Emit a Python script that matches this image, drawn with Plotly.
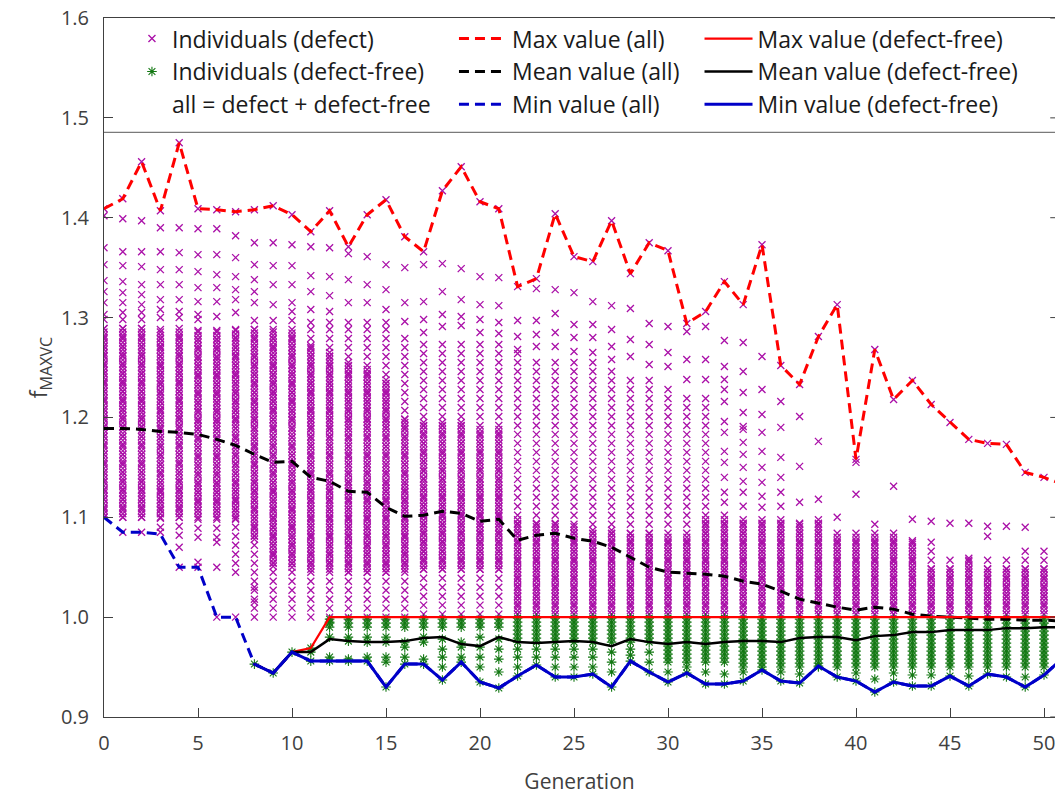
import numpy as np
import plotly.graph_objects as go

# ---------------- data ----------------
gens = list(range(0, 52))
max_all = [1.409, 1.419, 1.456, 1.407, 1.475, 1.409, 1.408, 1.406, 1.408, 1.412,
           1.403, 1.386, 1.407, 1.371, 1.403, 1.418, 1.381, 1.366, 1.427, 1.451,
           1.416, 1.409, 1.331, 1.339, 1.404, 1.361, 1.356, 1.397, 1.344, 1.375,
           1.367, 1.294, 1.306, 1.336, 1.313, 1.373, 1.252, 1.233, 1.281, 1.313,
           1.158, 1.268, 1.218, 1.237, 1.213, 1.195, 1.178, 1.174, 1.173, 1.145,
           1.140, 1.133]
mean_all = [1.189, 1.189, 1.188, 1.186, 1.185, 1.183, 1.178, 1.172, 1.163, 1.155,
            1.156, 1.140, 1.136, 1.126, 1.125, 1.110, 1.101, 1.102, 1.106, 1.104,
            1.096, 1.098, 1.077, 1.082, 1.084, 1.079, 1.076, 1.070, 1.060, 1.050,
            1.045, 1.044, 1.043, 1.041, 1.036, 1.033, 1.026, 1.018, 1.014, 1.010,
            1.007, 1.010, 1.008, 1.003, 1.001, 1.000, 0.999, 0.998, 0.998, 0.997,
            0.997, 0.996]
gens_df = list(range(8, 52))
min_df = [0.953, 0.944, 0.965, 0.956, 0.956, 0.956, 0.956, 0.930, 0.953, 0.953,
          0.937, 0.955, 0.935, 0.929, 0.941, 0.952, 0.940, 0.940, 0.943, 0.930,
          0.956, 0.945, 0.935, 0.944, 0.933, 0.933, 0.936, 0.947, 0.936, 0.934,
          0.951, 0.940, 0.936, 0.925, 0.935, 0.931, 0.931, 0.941, 0.931, 0.943,
          0.940, 0.930, 0.942, 0.959]
min_all = [1.100, 1.085, 1.085, 1.083, 1.050, 1.050, 1.000, 1.000] + min_df
max_df = [0.953, 0.944, 0.965, 0.969] + [1.000] * 40
mean_df = [0.953, 0.944, 0.965, 0.965, 0.978, 0.976, 0.975, 0.975, 0.976, 0.979,
           0.980, 0.973, 0.971, 0.980, 0.975, 0.974, 0.975, 0.976, 0.975, 0.971,
           0.978, 0.975, 0.973, 0.975, 0.973, 0.975, 0.976, 0.976, 0.975, 0.979,
           0.980, 0.980, 0.977, 0.981, 0.982, 0.985, 0.985, 0.987, 0.987, 0.987,
           0.989, 0.989, 0.990, 0.990]

x_ticks = [0, 5, 10, 15, 20, 25, 30, 35, 40, 45, 50]
y_ticks = [0.9, 1.0, 1.1, 1.2, 1.3, 1.4, 1.5, 1.6]
y_ticktext = ["0.9", "1.0", "1.1", "1.2", "1.3", "1.4", "1.5", "1.6"]

# individuals with defect: per generation, a solid band, a looser band, and single points
d_gens = list(range(0, 51))
d_solid_lo = [1.100, 1.100, 1.100, 1.100, 1.100, 1.100, 1.100, 1.098, 1.078, 1.051,
              1.050, 1.048, 1.048, 1.045, 1.045, 1.045, 1.048, 1.048, 1.048, 1.048,
              1.048, 1.048, 1.003, 1.003, 1.003, 1.003, 1.003, 1.003, 1.003, 1.003,
              1.003, 1.003, 1.003, 1.003, 1.003, 1.003, 1.003, 1.003, 1.003, 1.003,
              1.003, 1.003, 1.003, 1.003, 1.003, 1.003, 1.003, 1.003, 1.003, 1.003,
              1.003]
d_solid_hi = [1.290, 1.290, 1.290, 1.288, 1.288, 1.288, 1.288, 1.288, 1.288, 1.288,
              1.285, 1.275, 1.265, 1.255, 1.250, 1.240, 1.200, 1.195, 1.195, 1.195,
              1.190, 1.190, 1.100, 1.095, 1.095, 1.092, 1.090, 1.088, 1.085, 1.085,
              1.083, 1.080, 1.100, 1.098, 1.098, 1.098, 1.098, 1.096, 1.098, 1.081,
              1.081, 1.081, 1.081, 1.078, 1.051, 1.051, 1.061, 1.050, 1.050, 1.051,
              1.051]
d_chain_lo = [1.100, 1.100, 1.100, 1.090, 1.082, 1.080, 1.080, 1.045, 1.000, 1.000,
              1.000, 1.000, 1.000, 1.000, 1.000, 1.000, 1.000, 1.003, 1.003, 1.003,
              1.003, 1.003, 1.003, 1.003, 1.003, 1.003, 1.003, 1.003, 1.003, 1.003,
              1.003, 1.003, 1.003, 1.003, 1.003, 1.003, 1.003, 1.003, 1.003, 1.003,
              1.003, 1.003, 1.003, 1.003, 1.003, 1.003, 1.003, 1.003, 1.003, 1.003,
              1.003]
d_chain_hi = [1.300, 1.300, 1.300, 1.295, 1.295, 1.295, 1.295, 1.295, 1.300, 1.300,
              1.300, 1.295, 1.295, 1.290, 1.290, 1.290, 1.285, 1.280, 1.280, 1.280,
              1.275, 1.275, 1.265, 1.262, 1.262, 1.255, 1.255, 1.250, 1.245, 1.240,
              1.235, 1.225, 1.225, 1.105, 1.100, 1.100, 1.100, 1.098, 1.098, 1.085,
              1.088, 1.100, 1.085, 1.080, 1.081, 1.065, 1.061, 1.058, 1.065, 1.070,
              1.071]
d_sparse = [
    [1.303, 1.315, 1.326, 1.337, 1.353, 1.370, 1.402, 1.409],
    [1.085, 1.305, 1.315, 1.325, 1.336, 1.352, 1.366, 1.399, 1.419],
    [1.085, 1.305, 1.313, 1.323, 1.333, 1.351, 1.366, 1.397, 1.456],
    [1.085, 1.300, 1.308, 1.318, 1.333, 1.348, 1.366, 1.390, 1.407],
    [1.050, 1.070, 1.300, 1.306, 1.318, 1.333, 1.348, 1.365, 1.390, 1.475],
    [1.050, 1.055, 1.298, 1.303, 1.316, 1.330, 1.346, 1.363, 1.389, 1.409],
    [1.000, 1.050, 1.075, 1.301, 1.316, 1.330, 1.343, 1.363, 1.389, 1.408],
    [1.000, 1.305, 1.318, 1.328, 1.341, 1.360, 1.382, 1.406],
    [1.015, 1.030, 1.315, 1.326, 1.338, 1.353, 1.375, 1.408],
    [1.313, 1.333, 1.352, 1.375, 1.412],
    [1.306, 1.315, 1.333, 1.352, 1.373, 1.403],
    [1.295, 1.308, 1.326, 1.342, 1.371, 1.386],
    [1.295, 1.306, 1.322, 1.341, 1.370, 1.407],
    [1.295, 1.315, 1.338, 1.364, 1.371],
    [1.295, 1.315, 1.333, 1.361, 1.403],
    [1.295, 1.308, 1.328, 1.353, 1.418],
    [1.296, 1.315, 1.350, 1.381],
    [1.285, 1.298, 1.316, 1.353, 1.366],
    [1.291, 1.303, 1.326, 1.354, 1.427],
    [1.292, 1.301, 1.318, 1.349, 1.451],
    [1.285, 1.298, 1.313, 1.341, 1.416],
    [1.284, 1.295, 1.312, 1.340, 1.409],
    [1.268, 1.281, 1.297, 1.331],
    [1.271, 1.283, 1.297, 1.329, 1.339],
    [1.271, 1.285, 1.304, 1.328, 1.404],
    [1.266, 1.280, 1.293, 1.325, 1.361],
    [1.265, 1.280, 1.293, 1.316, 1.356],
    [1.258, 1.271, 1.288, 1.312, 1.397],
    [1.261, 1.278, 1.309, 1.344],
    [1.253, 1.273, 1.294, 1.375],
    [1.251, 1.265, 1.291, 1.367],
    [1.238, 1.258, 1.286, 1.294],
    [1.238, 1.258, 1.291, 1.306],
    [1.115, 1.125, 1.140, 1.155, 1.166, 1.185, 1.196, 1.216, 1.228, 1.238, 1.251, 1.277, 1.336],
    [1.111, 1.125, 1.136, 1.150, 1.163, 1.175, 1.188, 1.191, 1.205, 1.225, 1.246, 1.275, 1.313],
    [1.110, 1.121, 1.135, 1.150, 1.166, 1.185, 1.203, 1.228, 1.261, 1.373],
    [1.111, 1.125, 1.140, 1.160, 1.190, 1.216, 1.252],
    [1.115, 1.151, 1.201, 1.233],
    [1.118, 1.176, 1.281],
    [1.100, 1.313],
    [1.123, 1.155, 1.158],
    [1.268],
    [1.131, 1.218],
    [1.098, 1.237],
    [1.096, 1.213],
    [1.094, 1.195],
    [1.094, 1.178],
    [1.081, 1.091, 1.174],
    [1.091, 1.173],
    [1.090, 1.145],
    [1.140],
]

# defect-free individuals
f_gens = list(range(8, 51))
f_solid_lo = [None, None, None, None, 0.990, 0.990, 0.990, 0.990, 0.990, 0.990,
              0.990, 0.990, 0.990, 0.990, 0.975, 0.975, 0.975, 0.975, 0.975, 0.975,
              0.975, 0.975, 0.955, 0.955, 0.955, 0.955, 0.950, 0.950, 0.950, 0.950,
              0.950, 0.950, 0.950, 0.950, 0.950, 0.950, 0.950, 0.950, 0.950, 0.950,
              0.950, 0.950, 0.950]
f_sparse = [
    [0.953], [0.944], [0.965], [0.956, 0.965, 0.969],
    [0.956, 0.960, 0.980, 0.995], [0.956, 0.958, 0.976, 0.980], [0.956, 0.960, 0.975, 0.980],
    [0.930, 0.955, 0.960, 0.975, 0.980], [0.953, 0.960, 0.970, 0.975], [0.953, 0.958, 0.975, 0.980],
    [0.937, 0.950, 0.960, 0.968, 0.978], [0.955, 0.960, 0.970, 0.975], [0.935, 0.950, 0.960, 0.970, 0.980],
    [0.929, 0.945, 0.958, 0.968, 0.978], [0.941, 0.950, 0.960, 0.968], [0.952, 0.960, 0.968],
    [0.940, 0.950, 0.960, 0.968], [0.940, 0.950, 0.960, 0.968], [0.943, 0.950, 0.960, 0.968],
    [0.930, 0.945, 0.955, 0.965], [0.956, 0.962, 0.968], [0.945, 0.955, 0.965],
    [0.935, 0.945], [0.944, 0.950], [0.933, 0.945], [0.933, 0.943], [0.936, 0.945],
    [0.947], [0.936, 0.945], [0.934, 0.943], [0.951], [0.940], [0.936, 0.944],
    [0.925, 0.938], [0.935, 0.944], [0.931, 0.942], [0.931, 0.942], [0.941],
    [0.931, 0.941], [0.943], [0.940], [0.930, 0.940], [0.942],
]

# ---------------- build marker columns ----------------
dx, dy = [], []
for i, g in enumerate(d_gens):
    ys = list(np.arange(d_chain_lo[i], d_chain_hi[i] + 1e-9, 0.009))
    ys += list(np.arange(d_solid_lo[i], d_solid_hi[i] + 1e-9, 0.0035))
    ys += d_sparse[i]
    dx += [g] * len(ys)
    dy += ys

fx, fy = [], []
for i, g in enumerate(f_gens):
    ys = list(f_sparse[i])
    if f_solid_lo[i] is not None:
        ys += list(np.arange(f_solid_lo[i], 1.0 + 1e-9, 0.004))
    fx += [g] * len(ys)
    fy += ys

FONT = "Open Sans"
AX = "#404040"
fig = go.Figure()

fig.add_trace(go.Scatter(
    x=dx, y=dy, mode="markers", name="Individuals (defect)", legend="legend", legendgroup="a",
    marker=dict(symbol="x-thin", size=7, line=dict(width=1.3, color="#aa10a8"))))
fig.add_trace(go.Scatter(
    x=fx, y=fy, mode="markers", name="Individuals (defect-free)", legend="legend", legendgroup="b",
    marker=dict(symbol="asterisk", size=8, line=dict(width=1.1, color="#137813"))))
fig.add_trace(go.Scatter(
    x=[None], y=[None], mode="markers", name="all = defect + defect-free", legend="legend",
    legendgroup="c", marker=dict(size=1, color="rgba(0,0,0,0)")))

DASH = "10px,6px"
fig.add_trace(go.Scatter(x=gens, y=max_all, mode="lines", name="Max value (all)", legend="legend2",
                         legendgroup="d", line=dict(color="#ff0000", width=3, dash=DASH)))
fig.add_trace(go.Scatter(x=gens, y=mean_all, mode="lines", name="Mean value (all)", legend="legend2",
                         legendgroup="e", line=dict(color="#000000", width=3, dash=DASH)))
fig.add_trace(go.Scatter(x=gens, y=min_all, mode="lines", name="Min value (all)", legend="legend2",
                         legendgroup="f", line=dict(color="#0000c8", width=3, dash=DASH)))
fig.add_trace(go.Scatter(x=gens_df, y=max_df, mode="lines", name="Max value (defect-free)", legend="legend3",
                         legendgroup="g", line=dict(color="#ff0000", width=2.2)))
fig.add_trace(go.Scatter(x=gens_df, y=mean_df, mode="lines", name="Mean value (defect-free)", legend="legend3",
                         legendgroup="h", line=dict(color="#000000", width=2.5)))
fig.add_trace(go.Scatter(x=gens_df, y=min_df, mode="lines", name="Min value (defect-free)", legend="legend3",
                         legendgroup="i", line=dict(color="#0000c8", width=3)))

leg_common = dict(bgcolor="rgba(0,0,0,0)", borderwidth=0, yanchor="top", xanchor="left",
                  orientation="v", font=dict(family=FONT, size=23, color="#1a1a1a"),
                  tracegroupgap=0)
right_ticks = [dict(type="line", xref="x domain", yref="y", x0=0.995, x1=1.0, y0=v, y1=v,
                    line=dict(color=AX, width=1)) for v in y_ticks]
fig.update_layout(
    width=1055, height=795,
    margin=dict(l=104, r=0, t=18, b=78),
    plot_bgcolor="white", paper_bgcolor="white",
    font=dict(family=FONT, size=20, color=AX),
    showlegend=True,
    legend=dict(x=0.0294, y=1.0013, **leg_common),
    legend2=dict(x=0.368, y=1.0013, itemwidth=48, **leg_common),
    legend3=dict(x=0.6262, y=1.0013, itemwidth=48, **leg_common),
    xaxis=dict(range=[0, 50.585], tickvals=x_ticks, ticks="inside", ticklen=9,
               tickcolor=AX, showline=True, linecolor=AX, linewidth=1,
               mirror=True, showgrid=False, zeroline=False, ticklabeloverflow="allow",
               tickfont=dict(family=FONT, size=20, color=AX), ticklabelstandoff=8,
               title=dict(text="Generation", font=dict(family=FONT, size=21, color=AX),
                          standoff=20)),
    yaxis=dict(range=[0.9, 1.6], tickvals=y_ticks, ticktext=y_ticktext,
               ticks="inside", ticklen=9, tickcolor=AX, showline=True,
               linecolor=AX, linewidth=1, showgrid=False, zeroline=False,
               tickfont=dict(family=FONT, size=20, color=AX), ticklabelstandoff=10,
               title=dict(text="f<sub>MAXVC</sub>", font=dict(family=FONT, size=23, color=AX),
                          standoff=6)),
    shapes=[dict(type="line", xref="x domain", yref="y", x0=0, x1=1, y0=1.4855, y1=1.4855,
                 line=dict(color="#7a7a7a", width=1.2))] + right_ticks,
)

fig.write_html("out.html", config={"displayModeBar": False},
               post_script="document.body.style.margin='0px';")
